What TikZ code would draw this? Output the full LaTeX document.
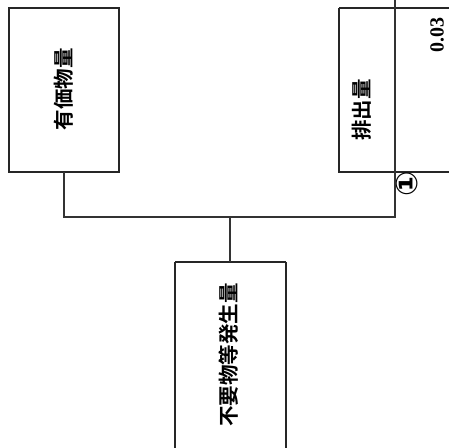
\documentclass[tikz,border=0pt]{standalone}
\usepackage{fontspec}
\newfontfamily\jpfont{Noto Sans CJK JP}[BoldFont={* Bold}]
\newfontfamily\djvfont{DejaVu Sans}
\newfontfamily\lserfont{Liberation Serif}
\begin{document}
\begin{tikzpicture}[x=1pt,y=-1pt,
  box/.style={draw=black!85,line width=1.4pt},
  conn/.style={draw=black!80,line width=1.2pt},
  lab/.style={font=\jpfont\bfseries\fontsize{20.5}{20.5}\selectfont,rotate=90,inner sep=0pt}]
\useasboundingbox (0,0) rectangle (449,447);
\draw[box] (9,8) rectangle (119,172);
\node[lab] (a) at (64,89) {有価物量};
\draw[box] (339,8) -- (339,172) -- (452,172);
\draw[box] (339,8) -- (452,8);
\node[lab] (b) at (362,110) {排出量};
\node[rotate=90,font=\lserfont\bfseries\fontsize{20}{20}\selectfont,inner sep=0pt] (v) at (437,35) {0.03};
\node[rotate=90,font=\djvfont\bfseries\fontsize{30}{30}\selectfont,inner sep=0pt] (c1) at (407,184) {①};
\draw[box] (175,262) -- (175,450);
\draw[box] (286,262) -- (286,450);
\draw[box] (175,262) -- (286,262);
\node[lab] (c) at (229,355) {不要物等発生量};
\coordinate (l) at (64,172);
\coordinate (r) at (395,-2);
\coordinate (m) at (230,262);
\draw[conn] (l) -- (64,217) -- (395,217) -- (r);
\draw[conn] (230,217) -- (m);
\end{tikzpicture}
\end{document}
